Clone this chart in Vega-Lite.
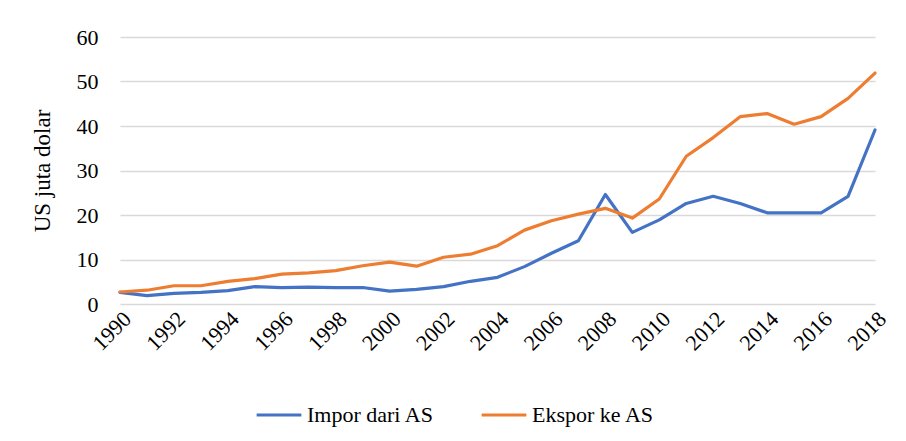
{
  "$schema": "https://vega.github.io/schema/vega-lite/v6.json",
  "width": 755,
  "height": 267,
  "autosize": {"type": "none"},
  "padding": {"left": 120, "top": 37, "right": 31, "bottom": 137},
  "background": "white",
  "config": {
    "font": "Liberation Serif",
    "view": {"stroke": null},
    "legend": {"labelFont": "Liberation Serif", "titleFont": "Liberation Serif"},
    "axis": {"labelFont": "Liberation Serif", "titleFont": "Liberation Serif"}
  },
  "data": {
    "values": [
      {"year": 1990, "series": "Impor dari AS", "value": 2.6},
      {"year": 1991, "series": "Impor dari AS", "value": 1.9},
      {"year": 1992, "series": "Impor dari AS", "value": 2.4},
      {"year": 1993, "series": "Impor dari AS", "value": 2.6},
      {"year": 1994, "series": "Impor dari AS", "value": 3.0},
      {"year": 1995, "series": "Impor dari AS", "value": 3.9},
      {"year": 1996, "series": "Impor dari AS", "value": 3.7},
      {"year": 1997, "series": "Impor dari AS", "value": 3.8},
      {"year": 1998, "series": "Impor dari AS", "value": 3.7},
      {"year": 1999, "series": "Impor dari AS", "value": 3.7},
      {"year": 2000, "series": "Impor dari AS", "value": 2.9},
      {"year": 2001, "series": "Impor dari AS", "value": 3.3},
      {"year": 2002, "series": "Impor dari AS", "value": 3.9},
      {"year": 2003, "series": "Impor dari AS", "value": 5.1},
      {"year": 2004, "series": "Impor dari AS", "value": 6.0},
      {"year": 2005, "series": "Impor dari AS", "value": 8.4},
      {"year": 2006, "series": "Impor dari AS", "value": 11.4},
      {"year": 2007, "series": "Impor dari AS", "value": 14.2},
      {"year": 2008, "series": "Impor dari AS", "value": 24.6},
      {"year": 2009, "series": "Impor dari AS", "value": 16.1},
      {"year": 2010, "series": "Impor dari AS", "value": 18.9},
      {"year": 2011, "series": "Impor dari AS", "value": 22.6},
      {"year": 2012, "series": "Impor dari AS", "value": 24.2},
      {"year": 2013, "series": "Impor dari AS", "value": 22.6},
      {"year": 2014, "series": "Impor dari AS", "value": 20.5},
      {"year": 2015, "series": "Impor dari AS", "value": 20.5},
      {"year": 2016, "series": "Impor dari AS", "value": 20.5},
      {"year": 2017, "series": "Impor dari AS", "value": 24.2},
      {"year": 2018, "series": "Impor dari AS", "value": 39.1},
      {"year": 1990, "series": "Ekspor ke AS", "value": 2.7},
      {"year": 1991, "series": "Ekspor ke AS", "value": 3.1},
      {"year": 1992, "series": "Ekspor ke AS", "value": 4.1},
      {"year": 1993, "series": "Ekspor ke AS", "value": 4.1},
      {"year": 1994, "series": "Ekspor ke AS", "value": 5.1},
      {"year": 1995, "series": "Ekspor ke AS", "value": 5.7},
      {"year": 1996, "series": "Ekspor ke AS", "value": 6.7},
      {"year": 1997, "series": "Ekspor ke AS", "value": 7.0},
      {"year": 1998, "series": "Ekspor ke AS", "value": 7.5},
      {"year": 1999, "series": "Ekspor ke AS", "value": 8.6},
      {"year": 2000, "series": "Ekspor ke AS", "value": 9.4},
      {"year": 2001, "series": "Ekspor ke AS", "value": 8.5},
      {"year": 2002, "series": "Ekspor ke AS", "value": 10.5},
      {"year": 2003, "series": "Ekspor ke AS", "value": 11.2},
      {"year": 2004, "series": "Ekspor ke AS", "value": 13.1},
      {"year": 2005, "series": "Ekspor ke AS", "value": 16.6},
      {"year": 2006, "series": "Ekspor ke AS", "value": 18.7},
      {"year": 2007, "series": "Ekspor ke AS", "value": 20.2},
      {"year": 2008, "series": "Ekspor ke AS", "value": 21.5},
      {"year": 2009, "series": "Ekspor ke AS", "value": 19.3},
      {"year": 2010, "series": "Ekspor ke AS", "value": 23.6},
      {"year": 2011, "series": "Ekspor ke AS", "value": 33.2},
      {"year": 2012, "series": "Ekspor ke AS", "value": 37.4},
      {"year": 2013, "series": "Ekspor ke AS", "value": 42.1},
      {"year": 2014, "series": "Ekspor ke AS", "value": 42.8},
      {"year": 2015, "series": "Ekspor ke AS", "value": 40.4},
      {"year": 2016, "series": "Ekspor ke AS", "value": 42.1},
      {"year": 2017, "series": "Ekspor ke AS", "value": 46.2},
      {"year": 2018, "series": "Ekspor ke AS", "value": 51.9}
    ]
  },
  "mark": {"type": "line", "strokeWidth": 3.2, "strokeCap": "round", "strokeJoin": "round"},
  "encoding": {
    "x": {
      "field": "year",
      "type": "quantitative",
      "scale": {"domain": [1990, 2018], "nice": false, "zero": false},
      "axis": {
        "title": null,
        "values": [1990, 1992, 1994, 1996, 1998, 2000, 2002, 2004, 2006, 2008, 2010, 2012, 2014, 2016, 2018],
        "format": "d",
        "labelAngle": -45,
        "labelFontSize": 22,
        "labelColor": "#000000",
        "labelPadding": 4,
        "domain": false,
        "ticks": false,
        "grid": false,
        "labelOverlap": false
      }
    },
    "y": {
      "field": "value",
      "type": "quantitative",
      "scale": {"domain": [0, 60], "nice": false},
      "axis": {
        "title": "US juta dolar",
        "titleFontSize": 23,
        "titleFontWeight": "normal",
        "titleColor": "#000000",
        "titlePadding": 22,
        "values": [0, 10, 20, 30, 40, 50, 60],
        "labelFontSize": 22,
        "labelColor": "#000000",
        "labelPadding": 22,
        "domain": false,
        "ticks": false,
        "grid": true,
        "gridColor": "#d9d9d9",
        "gridWidth": 1.5
      }
    },
    "color": {
      "field": "series",
      "type": "nominal",
      "scale": {"domain": ["Impor dari AS", "Ekspor ke AS"], "range": ["#4472C4", "#ED7D31"]},
      "legend": {
        "title": null,
        "orient": "none",
        "legendX": 135,
        "legendY": 354,
        "direction": "horizontal",
        "symbolType": "stroke",
        "symbolSize": 2000,
        "symbolStrokeWidth": 3.2,
        "labelFontSize": 22,
        "labelFont": "Liberation Serif",
        "labelColor": "#000000",
        "columnPadding": 40,
        "labelLimit": 300,
        "encode": {
          "labels": {"update": {"font": {"value": "Liberation Serif"}, "fontSize": {"value": 22}}}
        }
      }
    }
  }
}
